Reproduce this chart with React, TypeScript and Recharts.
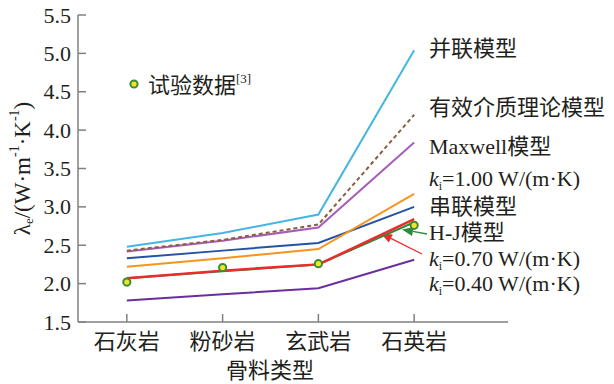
import { LineChart, Line, XAxis, YAxis, Customized, Label } from 'recharts'

const categories = ['石灰岩', '粉砂岩', '玄武岩', '石英岩']
const yTicks = [1.5, 2.0, 2.5, 3.0, 3.5, 4.0, 4.5, 5.0, 5.5]

// model predictions, W/(m·K)
const parallelModel = [2.48, 2.66, 2.9, 5.04]
const emtModel = [2.43, 2.57, 2.77, 4.2]
const maxwellModel = [2.42, 2.56, 2.73, 3.84]
const ki100 = [2.22, 2.33, 2.45, 3.17]
const seriesModel = [2.33, 2.43, 2.53, 3.0]
const hjModel = [2.07, 2.16, 2.25, 2.8]
const ki070 = [2.07, 2.17, 2.25, 2.84]
const ki040 = [1.78, 1.86, 1.94, 2.31]
// measured values [3]
const measured = [2.02, 2.21, 2.26, 2.76]

const data = categories.map((name, i) => ({
  x: i,
  name,
  parallelModel: parallelModel[i],
  emtModel: emtModel[i],
  maxwellModel: maxwellModel[i],
  ki100: ki100[i],
  seriesModel: seriesModel[i],
  hjModel: hjModel[i],
  ki070: ki070[i],
  ki040: ki040[i],
  measured: measured[i],
}))

const FONT = '"Liberation Serif", "Noto Sans CJK SC", serif'
const INK = '#231f20'
const AXIS = '#808080'

const YTick = ({ x, y, payload }: any) => (
  <g>
    <line x1={x} x2={x + 8} y1={y} y2={y} stroke={AXIS} strokeWidth={1.5} />
    <text x={x - 7} y={y} textAnchor="end" dominantBaseline="central" fontFamily={FONT} fontSize={22} fill={INK}>
      {Number(payload.value).toFixed(1)}
    </text>
  </g>
)

const XTick = ({ x, y, payload }: any) => (
  <g>
    <line x1={x} x2={x} y1={y} y2={y - 8} stroke={AXIS} strokeWidth={1.5} />
    <text x={x} y={y + 19} textAnchor="middle" dominantBaseline="central" fontFamily={FONT} fontSize={22} fill={INK}>
      {categories[payload.value]}
    </text>
  </g>
)

const Dot = ({ cx, cy }: any) => (
  <circle cx={cx} cy={cy} r={3.6} fill="#f1e52a" stroke="#3d8b35" strokeWidth={2} />
)

function arrow(tail: [number, number], tip: [number, number], color: string) {
  const dx = tip[0] - tail[0]
  const dy = tip[1] - tail[1]
  const len = Math.hypot(dx, dy)
  const ux = dx / len
  const uy = dy / len
  const hl = 11
  const hw = 4.5
  const bx = tip[0] - ux * hl
  const by = tip[1] - uy * hl
  const pts = `${tip[0]},${tip[1]} ${bx - uy * hw},${by + ux * hw} ${bx + uy * hw},${by - ux * hw}`
  return (
    <g>
      <line x1={tail[0]} y1={tail[1]} x2={bx} y2={by} stroke={color} strokeWidth={1.3} />
      <polygon points={pts} fill={color} />
    </g>
  )
}

const Ki = ({ y, value }: { y: number; value: string }) => (
  <text x={429} y={y} dominantBaseline="central" fontFamily={FONT} fontSize={22} fill={INK}>
    <tspan fontStyle="italic">k</tspan>
    <tspan fontSize={12} dy={8}>i</tspan>
    <tspan dy={-8}>{`=${value} W/(m·K)`}</tspan>
  </text>
)

const Annotations = () => (
  <g>
    <circle cx={134} cy={84} r={3.6} fill="#f1e52a" stroke="#3d8b35" strokeWidth={2} />
    <text x={148} y={85} dominantBaseline="central" fontFamily={FONT} fontSize={22} fill={INK}>
      试验数据
      <tspan fontSize={13} dy={-7}>[3]</tspan>
    </text>
    <text x={429} y={48} dominantBaseline="central" fontFamily={FONT} fontSize={22} fill={INK}>并联模型</text>
    <text x={429} y={107} dominantBaseline="central" fontFamily={FONT} fontSize={22} fill={INK}>有效介质理论模型</text>
    <text x={429} y={146} dominantBaseline="central" fontFamily={FONT} fontSize={22} fill={INK}>Maxwell模型</text>
    <Ki y={178} value="1.00" />
    <text x={429} y={206} dominantBaseline="central" fontFamily={FONT} fontSize={22} fill={INK}>串联模型</text>
    <text x={429} y={232} dominantBaseline="central" fontFamily={FONT} fontSize={22} fill={INK}>H-J模型</text>
    <Ki y={258} value="0.70" />
    <Ki y={283} value="0.40" />
    {arrow([427, 234], [402, 229.5], '#2e8b3e')}
    {arrow([422, 254], [381, 233.5], '#ee2a2a')}
  </g>
)

const yLabel = (props: any) => {
  const { viewBox } = props
  const cx = 22
  const cy = viewBox.y + viewBox.height / 2
  return (
    <text
      x={cx}
      y={cy}
      transform={`rotate(-90, ${cx}, ${cy})`}
      textAnchor="middle"
      dominantBaseline="central"
      fontFamily={FONT}
      fontSize={23}
      fill={INK}
    >
      λ<tspan fontSize={13} dy={6}>e</tspan>
      <tspan dy={-6}>/(W·m</tspan>
      <tspan fontSize={14} dy={-8}>-1</tspan>
      <tspan dy={8}>·K</tspan>
      <tspan fontSize={14} dy={-8}>-1</tspan>
      <tspan dy={8}>)</tspan>
    </text>
  )
}

// axis title sits under the middle of the four category ticks
const xLabel = () => (
  <text x={270} y={370} textAnchor="middle" dominantBaseline="central" fontFamily={FONT} fontSize={22} fill={INK}>
    骨料类型
  </text>
)

export default function App() {
  return (
    <div style={{ position: 'absolute', left: 0, top: 0, width: 614, height: 384, background: '#fff' }}>
      <LineChart width={614} height={384} data={data} margin={{ top: 15, right: 106, left: 0, bottom: 0 }}>
        <XAxis
          type="number"
          dataKey="x"
          domain={[-0.51, 3.98]}
          ticks={[0, 1, 2, 3]}
          height={62}
          tick={<XTick />}
          tickLine={false}
          tickSize={0}
          tickMargin={0}
          axisLine={{ stroke: AXIS, strokeWidth: 1.5 }}
          allowDataOverflow
        >
          <Label content={xLabel} />
        </XAxis>
        <YAxis
          type="number"
          domain={[1.5, 5.5]}
          ticks={yTicks}
          width={78}
          tick={<YTick />}
          tickLine={false}
          tickSize={0}
          tickMargin={0}
          axisLine={{ stroke: AXIS, strokeWidth: 1.5 }}
          allowDataOverflow
        >
          <Label content={yLabel} />
        </YAxis>
        <Line dataKey="ki040" stroke="#6a2f9f" strokeWidth={2} dot={false} isAnimationActive={false} />
        <Line dataKey="seriesModel" stroke="#2452a4" strokeWidth={2} dot={false} isAnimationActive={false} />
        <Line dataKey="ki100" stroke="#f7941d" strokeWidth={2} dot={false} isAnimationActive={false} />
        <Line dataKey="maxwellModel" stroke="#a55dbb" strokeWidth={2} dot={false} isAnimationActive={false} />
        <Line dataKey="emtModel" stroke="#8b5e3c" strokeWidth={2} strokeDasharray="4 3" dot={false} isAnimationActive={false} />
        <Line dataKey="parallelModel" stroke="#45b5e3" strokeWidth={2} dot={false} isAnimationActive={false} />
        <Line dataKey="hjModel" stroke="#2e8b3e" strokeWidth={2} dot={false} isAnimationActive={false} />
        <Line dataKey="ki070" stroke="#ee2a2a" strokeWidth={2.4} dot={false} isAnimationActive={false} />
        <Line dataKey="measured" stroke="none" dot={<Dot />} activeDot={false} isAnimationActive={false} />
        <Customized component={Annotations} />
      </LineChart>
    </div>
  )
}
